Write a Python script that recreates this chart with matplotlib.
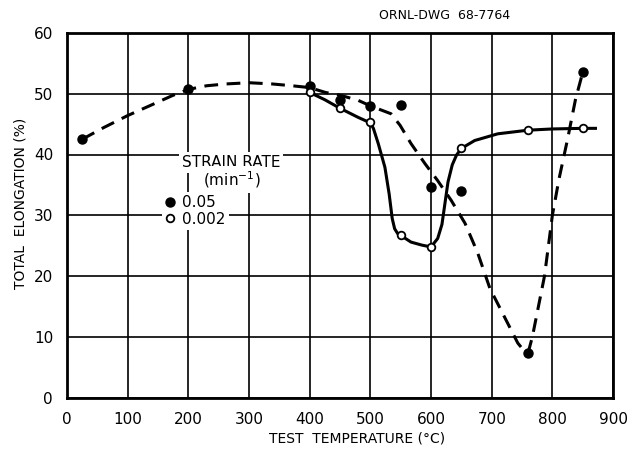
import matplotlib
matplotlib.use("Agg")
import matplotlib.pyplot as plt
from matplotlib.lines import Line2D

# --- DATA ---
# strain rate 0.05 min^-1 (filled points)
t_fast = [25, 200, 400, 450, 500, 550, 600, 650, 760, 850]
el_fast = [42.5, 50.7, 51.2, 48.9, 48.0, 48.2, 34.7, 34.0, 7.4, 53.5]

# strain rate 0.002 min^-1 (open points)
t_slow = [400, 450, 500, 550, 600, 650, 760, 850]
el_slow = [50.2, 47.7, 45.3, 26.7, 24.8, 41.0, 44.0, 44.3]

# hand-drawn curves
curve_fast_x = [25, 60, 100, 136, 174, 200, 230, 262, 300, 338, 371, 400, 426,
                452, 480, 500, 513, 534, 549, 567, 590, 611, 633, 656, 677, 697,
                720, 743, 752, 760, 767, 787, 800, 811, 825, 838, 850]
curve_fast_y = [42.5, 44.4, 46.4, 48.0, 49.7, 50.7, 51.3, 51.6, 51.8, 51.6, 51.3,
                51.0, 50.2, 49.7, 48.9, 48.0, 47.5, 46.7, 44.8, 41.8, 38.5, 35.7,
                32.5, 28.7, 23.8, 18.0, 13.5, 9.0, 7.9, 7.4, 10.0, 20.0, 30.0,
                36.0, 42.5, 49.0, 53.5]

curve_slow_x = [400, 425, 450, 480, 500, 505, 513, 524, 531, 536, 540, 545, 550,
                567, 585, 600, 611, 618, 623, 628, 635, 642, 650, 672, 710, 760,
                800, 850, 871]
curve_slow_y = [50.2, 49.0, 47.6, 46.1, 45.2, 44.3, 41.8, 37.9, 33.5, 29.5, 27.8,
                27.0, 26.7, 25.6, 25.1, 24.8, 26.2, 28.5, 32.0, 35.5, 38.3, 39.9,
                41.0, 42.3, 43.4, 44.0, 44.2, 44.3, 44.3]

x_ticks = [0, 100, 200, 300, 400, 500, 600, 700, 800, 900]
y_ticks = [0, 10, 20, 30, 40, 50, 60]

# --- PLOT ---
plt.rcParams['font.family'] = ['DejaVu Sans']
fig = plt.figure(figsize=(6.32, 4.5), dpi=100)
ax = fig.add_axes([0.106, 0.116, 0.864, 0.811])

ax.plot(curve_fast_x, curve_fast_y, color='black', lw=2.2, ls=(0, (4.5, 2.8)),
        dash_capstyle='butt', zorder=3)
ax.plot(curve_slow_x, curve_slow_y, color='black', lw=2.2, zorder=3)
ax.plot(t_fast, el_fast, 'o', color='black', ms=6.5, zorder=4)
ax.plot(t_slow, el_slow, 'o', mfc='white', mec='black', mew=1.3, ms=5.5, zorder=4)

ax.set_xlim(0, 900)
ax.set_ylim(0, 60)
ax.set_xticks(x_ticks)
ax.set_yticks(y_ticks)
ax.tick_params(length=0, labelsize=11)
ax.tick_params(axis='x', pad=10)
ax.tick_params(axis='y', pad=10)
ax.grid(True, color='black', lw=1.2)
ax.set_axisbelow(True)
for s in ax.spines.values():
    s.set_linewidth(2)

ax.set_xlabel('TEST  TEMPERATURE (°C)', fontsize=10)
ax.xaxis.set_label_coords(0.531, -0.093)
ax.set_ylabel('TOTAL  ELONGATION (%)', fontsize=10)
ax.yaxis.set_label_coords(-0.073, 0.534)

# legend block
wbox = dict(facecolor='white', edgecolor='none', pad=2)
ax.text(270, 38.7, 'STRAIN RATE', ha='center', va='center', fontsize=11, bbox=wbox)
ax.text(272, 35.9, '(min$^{-1}$)', ha='center', va='center', fontsize=11, bbox=wbox)
handles = [Line2D([], [], ls='none', marker='o', color='black', ms=6.5),
           Line2D([], [], ls='none', marker='o', mfc='white', mec='black', mew=1.3, ms=5.5)]
leg = ax.legend(handles, ['0.05', '0.002'], loc='upper left',
                bbox_to_anchor=(157, 33.8), bbox_transform=ax.transData,
                fontsize=11, frameon=True, fancybox=False, framealpha=1,
                edgecolor='none', handlelength=0.6, handletextpad=0.5,
                labelspacing=0.1, borderpad=0.2, borderaxespad=0)
leg.set_zorder(5)

fig.text(0.703, 0.966, 'ORNL-DWG  68-7764', ha='center', va='center', fontsize=9)

fig.savefig('out.png', dpi=100)
